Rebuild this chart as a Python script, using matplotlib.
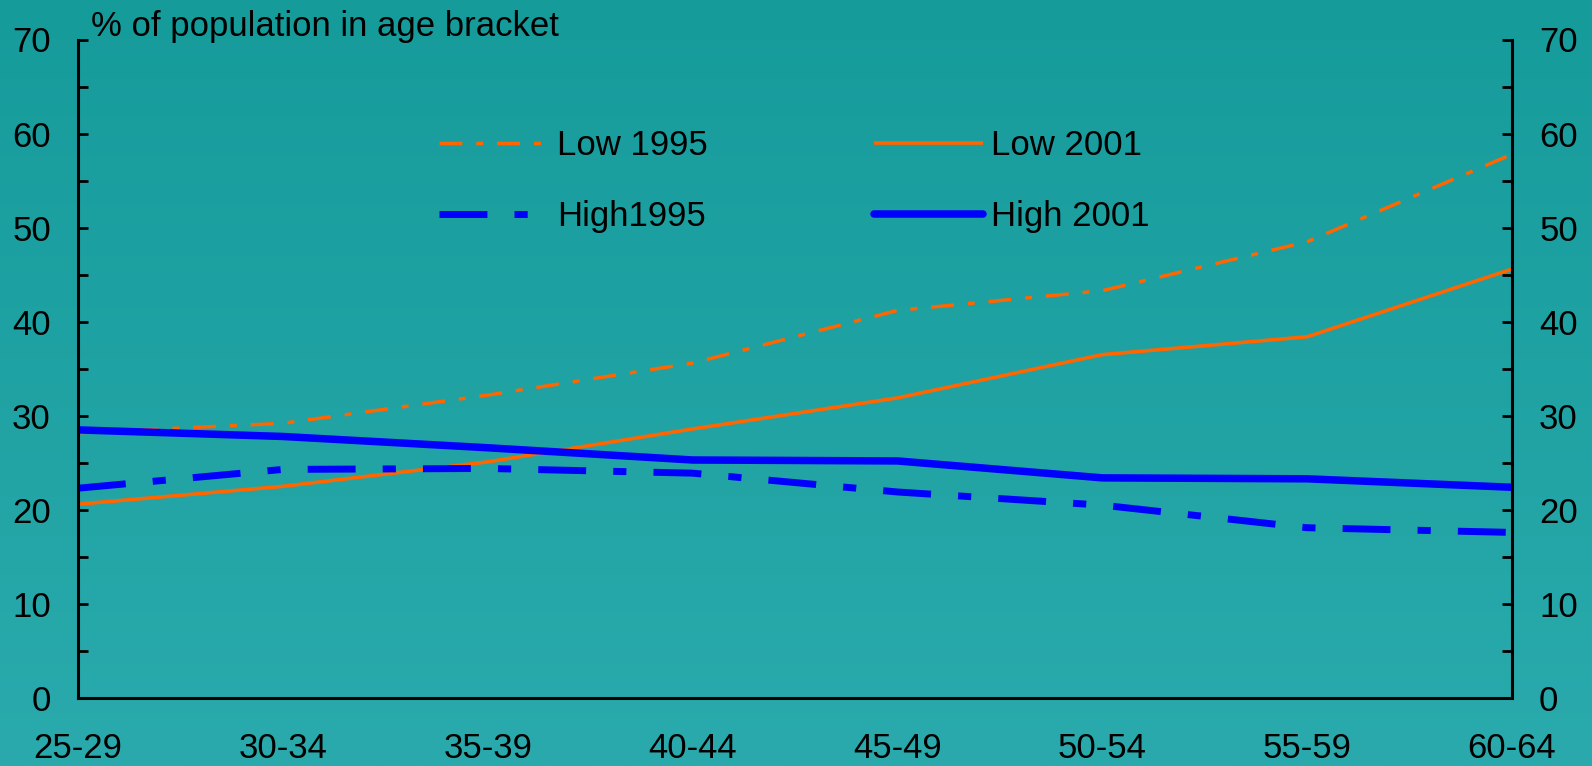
import numpy as np
import matplotlib
matplotlib.use("Agg")
import matplotlib.pyplot as plt
from matplotlib.colors import LinearSegmentedColormap

plt.rcParams['font.family'] = ['Liberation Sans', 'DejaVu Sans']

categories = ["25-29", "30-34", "35-39", "40-44", "45-49", "50-54", "55-59", "60-64"]
low_1995 = [28.2, 29.2, 32.2, 35.6, 41.2, 43.3, 48.5, 57.8]
low_2001 = [20.6, 22.5, 25.1, 28.6, 31.9, 36.5, 38.4, 45.6]
high_1995 = [22.3, 24.3, 24.4, 23.9, 21.9, 20.5, 18.1, 17.6]
high_2001 = [28.5, 27.8, 26.6, 25.3, 25.2, 23.4, 23.3, 22.4]
yticks = [0, 10, 20, 30, 40, 50, 60, 70]
ylabel = "% of population in age bracket"

W, H = 1592, 766
fig = plt.figure(figsize=(W / 100, H / 100), dpi=100)

# gradient background
bg = fig.add_axes([0, 0, 1, 1], zorder=-10)
cmap = LinearSegmentedColormap.from_list("bg", ["#169B9B", "#2AAAAC"])
grad = np.linspace(0, 1, 256).reshape(-1, 1)
bg.imshow(grad, aspect="auto", cmap=cmap, extent=[0, 1, 0, 1], origin="upper")
bg.axis("off")

left, right = 78 / W, 1512 / W
bottom, top = 1 - 698 / H, 1 - 39.5 / H
ax = fig.add_axes([left, bottom, right - left, top - bottom])
ax.patch.set_alpha(0)

x = np.arange(len(categories))
fs = 25
orange = "#FF6600"
blue = "#0000FF"

l1, = ax.plot(x, low_1995, color=orange, lw=2.5, dashes=(6.6, 4, 2, 4),
              dash_capstyle="butt", label="Low 1995")
l2, = ax.plot(x, low_2001, color=orange, lw=2.6, solid_capstyle="butt",
              label="Low 2001")
l3, = ax.plot(x, high_1995, color=blue, lw=5, dashes=(6.9, 3.9, 1.9, 3.9),
              dash_capstyle="butt", label="High1995")
l4, = ax.plot(x, high_2001, color=blue, lw=5.4, solid_capstyle="round",
              label="High 2001")

ax.set_xlim(0, len(categories) - 1)
ax.set_ylim(0, 70)
ax.set_xticks(x)
ax.set_xticklabels(categories, fontsize=fs)
ax.set_yticks(yticks)
ax.set_yticks(np.arange(5, 70, 10), minor=True)
ax.tick_params(axis="x", length=0, pad=24.5)
ax.tick_params(axis="y", which="both", direction="in", length=7, width=2,
               left=True, right=True, labelleft=True, labelright=True,
               labelsize=fs, pad=19.5)

for s in ["left", "right", "bottom"]:
    ax.spines[s].set_linewidth(2.2)
    ax.spines[s].set_color("black")
ax.spines["top"].set_visible(False)

fig.text(91 / W, 1 - 36 / H, ylabel, fontsize=fs, ha="left", va="baseline")

leg1 = fig.legend([l1, l3], ["Low 1995", "High1995"], loc="center left",
                  bbox_to_anchor=(439 / W, 1 - 181 / H), frameon=False,
                  fontsize=fs, handlelength=3.0, handletextpad=0.4,
                  labelspacing=1.08, borderpad=0, borderaxespad=0)
leg2 = fig.legend([l2, l4], ["Low 2001", "High 2001"], loc="center left",
                  bbox_to_anchor=(874 / W, 1 - 181 / H), frameon=False,
                  fontsize=fs, handlelength=3.15, handletextpad=0.22,
                  labelspacing=1.08, borderpad=0, borderaxespad=0)

fig.savefig("out.png", dpi=100)
